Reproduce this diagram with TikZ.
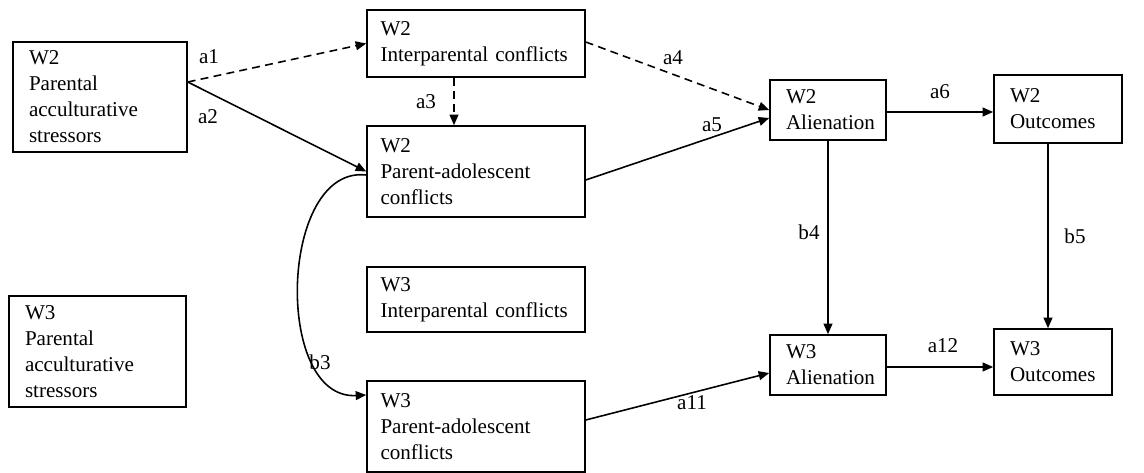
\documentclass[tikz,border=0pt]{standalone}
\usepackage{fontspec}
\setmainfont{Liberation Serif}
\usepackage{tikz}
\usetikzlibrary{arrows.meta, positioning}

\tikzset{
    varbox/.style={draw, line width=0.9pt, rectangle, align=left, inner xsep=0.32cm,
        font=\fontsize{12}{14.8}\selectfont},
    widebox/.style={varbox, inner xsep=0.27cm, text width=3.82cm},
    path/.style={line width=0.9pt, -{Triangle[length=6pt,width=5pt]}},
    dpath/.style={path, dash pattern=on 4.5pt off 3pt},
    coef/.style={font=\fontsize{12}{14}\selectfont, inner sep=1pt}
}

\begin{document}
\begin{tikzpicture}[x=0.02cm, y=-0.02cm]
    \useasboundingbox (0,0) rectangle (1144,473);

    % Wave 2 variables
    \node[varbox, text width=2.84cm, minimum height=2.2cm] (par2) at (100,97) {W2\\Parental\\acculturative\\stressors};
    \node[widebox, minimum height=1.34cm] (ip2) at (476,43.5) {W2\\Interparental conflicts};
    \node[widebox, minimum height=1.82cm] (pa2) at (476,171.5) {W2\\Parent-adolescent\\conflicts};
    \node[varbox, text width=1.68cm, minimum height=1.2cm] (al2) at (828,110) {W2\\Alienation};
    \node[varbox, text width=1.92cm, minimum height=1.36cm] (oc2) at (1058,109) {W2\\Outcomes};

    % Wave 3 variables
    \node[varbox, text width=2.9cm, minimum height=2.22cm] (par3) at (97.5,351.5) {W3\\Parental\\acculturative\\stressors};
    \node[widebox, minimum height=1.3cm] (ip3) at (476,299.5) {W3\\Interparental conflicts};
    \node[widebox, minimum height=1.82cm] (pa3) at (476,426.5) {W3\\Parent-adolescent\\conflicts};
    \node[varbox, text width=1.68cm, minimum height=1.2cm] (al3) at (828,365) {W3\\Alienation};
    \node[varbox, text width=1.72cm, minimum height=1.32cm] (oc3) at (1053,362) {W3\\Outcomes};

    % Paths
    \draw[dpath] ([yshift=0.3cm]par2.east) -- (ip2.west);
    \draw[path] ([yshift=0.3cm]par2.east) -- (pa2.west);
    \draw[dpath] ([xshift=-0.44cm]ip2.south) -- ([xshift=-0.44cm]pa2.north);
    \draw[dpath] ([yshift=0.03cm]ip2.east) -- (al2.west);
    \draw[path] ([yshift=-0.17cm]pa2.east) -- ([yshift=-0.16cm]al2.west);
    \draw[path] ([yshift=-0.04cm]al2.east) -- ([yshift=-0.04cm]al2.east -| oc2.west);
    \draw[path] (al2.south) -- (al3.north);
    \draw[path] ([xshift=-0.2cm]oc2.south) -- ([xshift=-0.2cm]oc2.south |- oc3.north);
    \draw[path] ([yshift=0.13cm]pa3.east) -- ([yshift=-0.16cm]al3.west);
    \draw[path] ([yshift=-0.04cm]al3.east) -- ([yshift=-0.04cm]al3.east -| oc3.west);
    \draw[path] ([yshift=-0.07cm]pa2.west) .. controls +(-87,-10) and +(-93,5) .. ([yshift=0.63cm]pa3.west);

    % Coefficient labels
    \node[coef] (la1) at (209,57) {a1};
    \node[coef] (la2) at (208,117) {a2};
    \node[coef] (la3) at (426,102) {a3};
    \node[coef] (la4) at (673,58) {a4};
    \node[coef] (la5) at (712,125) {a5};
    \node[coef] (la6) at (940,92) {a6};
    \node[coef] (lb4) at (809,232) {b4};
    \node[coef] (lb5) at (1075,236) {b5};
    \node[coef] (lb3) at (320,362) {b3};
    \node[coef] (la11) at (692,403) {a11};
    \node[coef] (la12) at (943,346) {a12};
\end{tikzpicture}
\end{document}
